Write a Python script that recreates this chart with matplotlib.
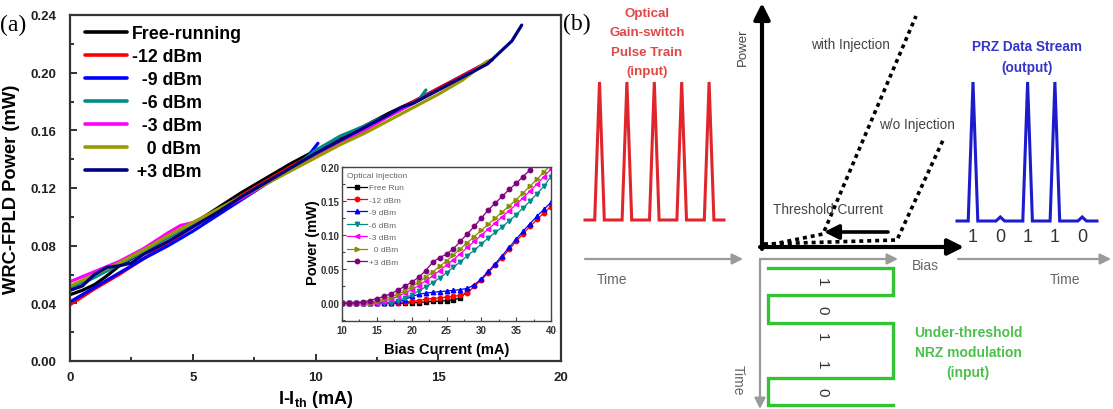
import matplotlib
matplotlib.use('Agg')
import matplotlib.pyplot as plt
from matplotlib.ticker import MultipleLocator

plt.rcParams['font.family'] = ['Liberation Sans', 'DejaVu Sans']
plt.rcParams['mathtext.fontset'] = 'custom'
plt.rcParams['mathtext.bf'] = 'Liberation Sans:bold'
plt.rcParams['mathtext.rm'] = 'Liberation Sans:bold'
plt.rcParams['mathtext.default'] = 'bf'

# ---------------- panel (a) main data ----------------
labels_main = ['Free-running', '-12 dBm', '  -9 dBm', '  -6 dBm', '  -3 dBm', '   0 dBm', ' +3 dBm']
colors_main = ['#000000', '#ff0000', '#0000ff', '#008b8b', '#ff00ff', '#9a9a00', '#000080']

free_x = [0, 0.5, 1, 1.5, 2, 3, 4, 5, 6, 7, 8, 9, 10, 11, 12, 13, 14, 15, 16, 17.2]
free_y = [0.046, 0.049, 0.053, 0.059, 0.066, 0.076, 0.086, 0.095, 0.106, 0.117, 0.127, 0.137,
          0.146, 0.155, 0.163, 0.172, 0.180, 0.189, 0.198, 0.209]
m12_x = [0, 1, 2, 3, 4, 5, 6, 7, 8, 9, 10, 11, 12, 13, 14, 15, 16, 17.2]
m12_y = [0.039, 0.050, 0.060, 0.071, 0.082, 0.093, 0.104, 0.115, 0.125, 0.135, 0.144, 0.153,
         0.162, 0.171, 0.180, 0.189, 0.198, 0.209]
m9_x = [0, 1, 2, 3, 4, 5, 6, 7, 8, 9, 9.6, 10.1]
m9_y = [0.041, 0.051, 0.061, 0.071, 0.080, 0.090, 0.101, 0.112, 0.123, 0.133, 0.140, 0.151]
m6_x = [0, 1, 2, 3, 4, 5, 6, 7, 8, 9, 10, 11, 12, 12.6, 13, 14, 14.2, 14.5]
m6_y = [0.050, 0.058, 0.067, 0.076, 0.086, 0.095, 0.105, 0.114, 0.124, 0.133, 0.146, 0.156,
        0.163, 0.168, 0.170, 0.179, 0.181, 0.188]
m3_x = [0, 1, 2, 3, 4, 4.5, 5, 6, 7, 8, 9, 10, 11, 12, 13, 14, 15, 16, 17.2]
m3_y = [0.055, 0.062, 0.069, 0.078, 0.089, 0.094, 0.096, 0.104, 0.113, 0.123, 0.133, 0.142,
        0.151, 0.160, 0.170, 0.179, 0.188, 0.197, 0.209]
p0_x = [0, 1, 2, 3, 4, 5, 6, 7, 8, 9, 10, 11, 12, 13, 14, 15, 16, 17.0]
p0_y = [0.052, 0.060, 0.068, 0.077, 0.087, 0.096, 0.105, 0.114, 0.123, 0.132, 0.141, 0.150,
        0.158, 0.167, 0.176, 0.185, 0.195, 0.208]
p3_x = [0, 0.5, 1, 1.5, 2, 2.5, 3, 4, 5, 6, 7, 8, 9, 10, 11, 12, 13, 13.5, 14, 15, 16, 17,
        17.5, 18, 18.4]
p3_y = [0.049, 0.052, 0.060, 0.065, 0.066, 0.068, 0.074, 0.083, 0.093, 0.103, 0.114, 0.124,
        0.134, 0.144, 0.153, 0.162, 0.171, 0.176, 0.179, 0.188, 0.197, 0.206, 0.214, 0.222, 0.233]
main_series = [(free_x, free_y), (m12_x, m12_y), (m9_x, m9_y), (m6_x, m6_y),
               (m3_x, m3_y), (p0_x, p0_y), (p3_x, p3_y)]

main_xticks = [0, 5, 10, 15, 20]
main_yticks = [0.00, 0.04, 0.08, 0.12, 0.16, 0.20, 0.24]

# ---------------- inset data ----------------
inset_labels = ['Free Run', '-12 dBm', '-9 dBm', '-6 dBm', '-3 dBm', '  0 dBm', '+3 dBm']
inset_colors = ['#000000', '#ff0000', '#0000ff', '#008b8b', '#ff00ff', '#8b8b00', '#800080']
inset_markers = ['s', 'o', '^', 'v', '<', '>', 'o']
bias = list(range(10, 41))
ins_free = [0, 0, 0, 0, 0, 0, 0, 0, 0, 0, 0.001, 0.001, 0.002, 0.003, 0.003, 0.004, 0.005,
            0.008, 0.018]
ins_m12 = [0, 0, 0, 0, 0, 0, 0, 0, 0.001, 0.002, 0.003, 0.004, 0.006, 0.007, 0.008, 0.009,
           0.010, 0.012, 0.015, 0.025, 0.034, 0.045, 0.056, 0.067, 0.079, 0.091, 0.102, 0.113,
           0.123, 0.133, 0.142]
ins_m9 = [0, 0, 0, 0, 0, 0, 0, 0.001, 0.003, 0.005, 0.010, 0.013, 0.015, 0.016, 0.017, 0.018,
          0.019, 0.020, 0.022, 0.027, 0.036, 0.047, 0.058, 0.070, 0.082, 0.094, 0.106, 0.117,
          0.128, 0.138, 0.148]
ins_m6 = [0, 0, 0, 0, 0, 0, 0, 0.001, 0.004, 0.008, 0.012, 0.018, 0.024, 0.030, 0.037, 0.045,
          0.053, 0.061, 0.070, 0.078, 0.087, 0.096, 0.104, 0.112, 0.121, 0.130, 0.140, 0.150,
          0.161, 0.172, 0.186]
ins_m3 = [0, 0, 0, 0, 0, 0.001, 0.003, 0.006, 0.010, 0.015, 0.020, 0.026, 0.033, 0.040, 0.048,
          0.056, 0.064, 0.073, 0.082, 0.091, 0.100, 0.109, 0.118, 0.127, 0.136, 0.145, 0.155,
          0.165, 0.175, 0.186, 0.197]
ins_p0 = [0, 0, 0, 0, 0.001, 0.003, 0.006, 0.009, 0.013, 0.018, 0.024, 0.031, 0.038, 0.046,
          0.054, 0.062, 0.071, 0.080, 0.089, 0.098, 0.107, 0.116, 0.125, 0.134, 0.143, 0.152,
          0.162, 0.172, 0.182, 0.193, 0.203]
ins_p3 = [0, 0, 0.001, 0.002, 0.004, 0.007, 0.010, 0.014, 0.019, 0.025, 0.031, 0.038, 0.048,
          0.060, 0.067, 0.072, 0.080, 0.091, 0.102, 0.113, 0.125, 0.137, 0.147, 0.157, 0.167,
          0.176, 0.186, 0.196, 0.206]
inset_series = [ins_free, ins_m12, ins_m9, ins_m6, ins_m3, ins_p0, ins_p3]

# ---------------- panel (b) schematic data ----------------
pulse_bits = [1, 1, 1, 1, 1]
prz_bits = [1, 0, 1, 1, 0]
nrz_bits = [1, 0, 1, 1, 0]
red_title = ['Optical', 'Gain-switch', 'Pulse Train', '(input)']
blue_title = ['PRZ Data Stream', '(output)']
green_title = ['Under-threshold', 'NRZ modulation', '(input)']

W, H = 1113, 410
fig = plt.figure(figsize=(W / 100, H / 100), dpi=100)

# ---------------- main axes ----------------
L, R, T, B = 70, 561, 16, 362
ax = fig.add_axes([L / W, (H - B) / H, (R - L) / W, (B - T) / H])
for (xs, ys), c, lab in zip(main_series, colors_main, labels_main):
    ax.plot(xs, ys, color=c, lw=2.3, label=lab, solid_capstyle='round')
ax.set_xlim(0, 20)
ax.set_ylim(0, 0.24)
ax.set_xticks(main_xticks)
ax.set_yticks(main_yticks)
ax.set_yticklabels(['%.2f' % v for v in main_yticks])
ax.xaxis.set_minor_locator(MultipleLocator(2.5))
ax.yaxis.set_minor_locator(MultipleLocator(0.02))
ax.tick_params(which='both', direction='in', width=1.3, color='#222222')
ax.tick_params(which='major', length=5)
ax.tick_params(which='minor', length=3)
ax.tick_params(axis='y', pad=10)
ax.tick_params(axis='x', pad=7)
for lab in ax.get_xticklabels() + ax.get_yticklabels():
    lab.set_fontweight('bold')
    lab.set_fontsize(9.5)
    lab.set_color('#222222')
for s in ax.spines.values():
    s.set_linewidth(1.6)
    s.set_color('#333333')
ax.set_xlabel(r'I-I$_{th}$ (mA)', fontsize=13, fontweight='bold', va='center')
ax.xaxis.set_label_coords(0.5, -(400 - B) / (B - T))
ax.set_ylabel('WRC-FPLD Power (mW)', fontsize=13.2, fontweight='bold', va='center')
ax.yaxis.set_label_coords(-(L - 12) / (R - L), 0.5)
leg = ax.legend(loc='upper left', bbox_to_anchor=((85 - L) / (R - L), (B - 26) / (B - T)),
                frameon=False, borderpad=0, borderaxespad=0, handlelength=2.36,
                handletextpad=0.28, labelspacing=0.34,
                prop={'weight': 'bold', 'size': 12.8})
for line in leg.get_lines():
    line.set_linewidth(2.6)

# ---------------- inset ----------------
iL, iR, iT, iB = 342, 551, 168, 322
ax2 = fig.add_axes([iL / W, (H - iB) / H, (iR - iL) / W, (iB - iT) / H])
for ys, c, m, lab in zip(inset_series, inset_colors, inset_markers, inset_labels):
    ax2.plot(bias[:len(ys)], ys, color=c, marker=m, ms=3.2, lw=0.9, label=lab)
ax2.set_xlim(10, 40)
ax2.set_ylim(-0.026, 0.20)
ax2.set_xticks([10, 15, 20, 25, 30, 35, 40])
ax2.set_yticks([0.00, 0.05, 0.10, 0.15, 0.20])
ax2.set_yticklabels(['%.2f' % v for v in [0.00, 0.05, 0.10, 0.15, 0.20]])
ax2.xaxis.set_minor_locator(MultipleLocator(2.5))
ax2.yaxis.set_minor_locator(MultipleLocator(0.025))
ax2.tick_params(which='both', direction='in', width=0.8, color='#444444')
ax2.tick_params(which='major', length=3)
ax2.tick_params(which='minor', length=1.8)
ax2.tick_params(axis='y', pad=2)
ax2.tick_params(axis='x', pad=3)
for lab in ax2.get_xticklabels() + ax2.get_yticklabels():
    lab.set_fontweight('bold')
    lab.set_fontsize(7)
    lab.set_color('#333333')
for s in ax2.spines.values():
    s.set_linewidth(1.0)
    s.set_color('#444444')
ax2.set_xlabel('Bias Current (mA)', fontsize=10.5, fontweight='bold', va='center')
ax2.xaxis.set_label_coords((447 - iL) / (iR - iL), -(350 - iB) / (iB - iT))
ax2.set_ylabel('Power (mW)', fontsize=10.5, fontweight='bold', va='center')
ax2.yaxis.set_label_coords(-(iL - 313) / (iR - iL), (iB - 243) / (iB - iT))
leg2 = ax2.legend(loc='upper left', bbox_to_anchor=((347 - iL) / (iR - iL), (iB - 173) / (iB - iT)),
                  frameon=False, borderpad=0, borderaxespad=0, handlelength=2.4,
                  handletextpad=0.2, labelspacing=0.55, prop={'size': 6},
                  title='Optical Injection', title_fontsize=6, alignment='left')
leg2.get_title().set_color('#666666')
for t in leg2.get_texts():
    t.set_color('#666666')

# ---------------- overlay for labels and panel (b) ----------------
ov = fig.add_axes([0, 0, 1, 1])
ov.set_xlim(0, W)
ov.set_ylim(H, 0)
ov.axis('off')

ov.text(0, 25, '(a)', family='Liberation Serif', fontsize=17, va='center', ha='left')
ov.text(563, 24, '(b)', family='Liberation Serif', fontsize=17, va='center', ha='left')


def pulse_wave(bits, x0, pitch, base, peak, half_w, bump, start, end):
    xs, ys = [start], [base]
    for i, b in enumerate(bits):
        cx = x0 + i * pitch
        top = peak if b else base - bump
        hw = half_w if b else half_w * 0.9
        xs += [cx - hw, cx, cx + hw]
        ys += [base, top, base]
    xs.append(end)
    ys.append(base)
    return xs, ys


# red pulse train
rx, ry = pulse_wave(pulse_bits, 599.5, 27.4, 221, 83, 4.8, 0, 585, 724)
ov.plot(rx, ry, color='#e0262b', lw=2.2, solid_joinstyle='miter')
for i, s in enumerate(red_title):
    ov.text(647, 14 + i * 19.3, s, color='#e04848', fontsize=9.6, fontweight='bold',
            ha='center', va='center')

# blue PRZ data
bx, by = pulse_wave(prz_bits, 973, 27.3, 222, 83, 4.8, 4, 957, 1097)
ov.plot(bx, by, color='#1c1ccc', lw=2.2, solid_joinstyle='miter')
for i, s in enumerate(blue_title):
    ov.text(1027, 47 + i * 21, s, color='#3535c8', fontsize=9.8, fontweight='bold',
            ha='center', va='center')
for i, b in enumerate(prz_bits):
    ov.text(973 + i * 27.3, 238, str(b), fontsize=13, color='#333333', ha='center', va='center')

# green NRZ modulation (time runs downward)
lo_x, hi_x, y0, bit_h = 768, 893, 269, 27.4
gx, gy = [lo_x], [y0]
for i, b in enumerate(nrz_bits):
    lev = hi_x if b else lo_x
    gx += [lev, lev]
    gy += [y0 + i * bit_h, y0 + (i + 1) * bit_h]
gx.append(hi_x)
gy.append(y0 + len(nrz_bits) * bit_h)
ov.plot(gx, gy, color='#33c433', lw=2.4, solid_joinstyle='miter')
for i, b in enumerate(nrz_bits):
    ov.text(822, y0 + (i + 0.5) * bit_h, str(b), fontsize=11, color='#333333',
            rotation=-90, ha='center', va='center')
for i, s in enumerate(green_title):
    ov.text(968, 333 + i * 20, s, color='#4cc04c', fontsize=10, fontweight='bold',
            ha='center', va='center')

# gray arrows and labels
gray = '#9a9a9a'
arr_gray = dict(arrowstyle='-|>', color=gray, lw=1.6, mutation_scale=16, shrinkA=0, shrinkB=0)
ov.annotate('', xy=(743, 260), xytext=(585, 260), arrowprops=arr_gray)
ov.annotate('', xy=(898, 260), xytext=(760, 260), arrowprops=arr_gray)
ov.annotate('', xy=(760, 410), xytext=(760, 260), arrowprops=arr_gray)
ov.annotate('', xy=(1111, 260), xytext=(958, 260), arrowprops=arr_gray)
ov.text(612, 280, 'Time', fontsize=10, color='#666666', ha='center', va='center')
ov.text(1065, 280, 'Time', fontsize=10, color='#666666', ha='center', va='center')
ov.text(925, 266, 'Bias', fontsize=10, color='#666666', ha='center', va='center')
ov.text(738, 380, 'Time', fontsize=10, color='#666666', rotation=-90, ha='center', va='center')

# L-I schematic
arr_blk = dict(arrowstyle='-|>', color='black', lw=3, mutation_scale=24, shrinkA=0, shrinkB=0)
ov.annotate('', xy=(762, 4), xytext=(762, 250), arrowprops=arr_blk)
ov.annotate('', xy=(964, 248), xytext=(760, 248), arrowprops=arr_blk)
ov.plot([764, 823, 916], [247, 235, 17], color='black', lw=2.6, ls=(0, (1.1, 1.1)))
ov.plot([764, 897, 944], [245, 241, 139], color='black', lw=2.6, ls=(0, (1.1, 1.1)))
ov.annotate('', xy=(824, 233), xytext=(888, 233),
            arrowprops=dict(arrowstyle='-|>', color='black', lw=2.6, mutation_scale=22,
                            shrinkA=0, shrinkB=0))
ov.text(743, 47, 'Power', fontsize=9.5, color='#444444', rotation=90, ha='center', va='center')
ov.text(850, 45, 'with Injection', fontsize=9.8, color='#444444', ha='center', va='center')
ov.text(879, 125, 'w/o Injection', fontsize=9.8, color='#444444', ha='left', va='center')
ov.text(773, 210, 'Threshold Current', fontsize=9.8, color='#444444', ha='left', va='center')

fig.savefig('out.png', dpi=100)
